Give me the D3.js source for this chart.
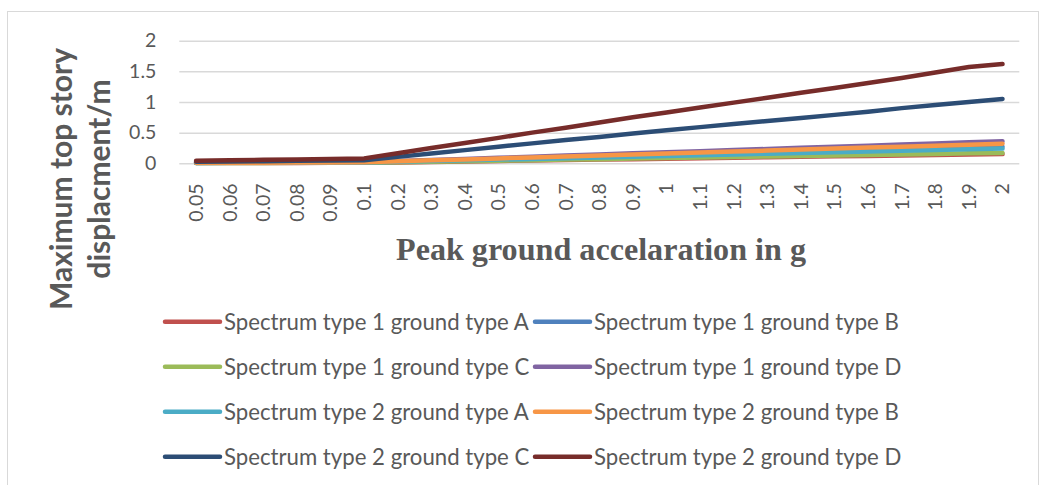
<!DOCTYPE html>
<html>
<head>
<meta charset="utf-8">
<script src="https://cdn.jsdelivr.net/npm/d3@7"></script>
<style>
  html, body { margin: 0; padding: 0; background: #fff; }
  svg { display: block; }
</style>
</head>
<body>
<svg id="chart" width="1044" height="485"></svg>
<script>
// ---------------- DATA ----------------
const categories = ["0.05","0.06","0.07","0.08","0.09","0.1","0.2","0.3","0.4","0.5","0.6","0.7","0.8","0.9","1","1.1","1.2","1.3","1.4","1.5","1.6","1.7","1.8","1.9","2"];
const yTicks = [0, 0.5, 1, 1.5, 2];

const s1A = [0.004,0.005,0.005,0.006,0.007,0.008,0.015,0.023,0.03,0.038,0.045,0.053,0.06,0.068,0.075,0.083,0.09,0.098,0.105,0.113,0.12,0.128,0.135,0.143,0.15];
const s1B = [0.007,0.008,0.009,0.011,0.012,0.014,0.027,0.041,0.054,0.068,0.081,0.095,0.108,0.122,0.135,0.149,0.162,0.176,0.189,0.203,0.216,0.23,0.243,0.257,0.27];
const s1C = [0.004,0.005,0.006,0.007,0.008,0.009,0.017,0.026,0.034,0.043,0.051,0.06,0.068,0.077,0.085,0.094,0.102,0.111,0.119,0.128,0.136,0.145,0.153,0.162,0.17];
const s1D = [0.009,0.011,0.013,0.014,0.016,0.018,0.036,0.054,0.072,0.09,0.108,0.126,0.144,0.162,0.18,0.198,0.216,0.234,0.252,0.27,0.288,0.306,0.324,0.342,0.36];
const s2A = [0.006,0.007,0.008,0.01,0.011,0.012,0.024,0.036,0.048,0.06,0.072,0.084,0.096,0.108,0.12,0.132,0.144,0.156,0.168,0.18,0.192,0.204,0.216,0.228,0.24];
const s2B = [0.008,0.01,0.011,0.013,0.014,0.016,0.032,0.048,0.064,0.08,0.096,0.112,0.128,0.144,0.16,0.176,0.192,0.208,0.224,0.24,0.256,0.272,0.288,0.304,0.32];
const s2C = [0.025,0.03,0.035,0.04,0.045,0.05,0.105,0.16,0.215,0.27,0.325,0.38,0.43,0.485,0.54,0.59,0.64,0.69,0.74,0.79,0.84,0.9,0.95,1.0,1.05];
const s2D = [0.04,0.048,0.056,0.064,0.072,0.08,0.165,0.25,0.33,0.415,0.5,0.58,0.665,0.75,0.83,0.91,0.99,1.07,1.15,1.23,1.31,1.39,1.48,1.57,1.62];

const seriesNames = [
  "Spectrum type 1 ground type A","Spectrum type 1 ground type B",
  "Spectrum type 1 ground type C","Spectrum type 1 ground type D",
  "Spectrum type 2 ground type A","Spectrum type 2 ground type B",
  "Spectrum type 2 ground type C","Spectrum type 2 ground type D"
];
const seriesColors = ["#C0504D","#4F81BD","#9BBB59","#8064A2","#4BACC6","#F79646","#2C4D75","#772C2A"];
const seriesValues = [s1A, s1B, s1C, s1D, s2A, s2B, s2C, s2D];

const xTitle = "Peak ground accelaration in g";
const yTitleLines = ["Maximum top story", "displacment/m"];

// ---------------- LAYOUT ----------------
const svg = d3.select("#chart");
const plot = { left: 179.3, right: 1019.3, top: 40.7, bottom: 163.3 };
const textColor = "#595959";
const font = "Lato, Calibri, 'Open Sans', sans-serif";

// chart border
svg.append("rect")
  .attr("x", 7.5).attr("y", 11.5)
  .attr("width", 1031).attr("height", 520)
  .attr("fill", "#fff").attr("stroke", "#d9d9d9").attr("stroke-width", 1);

const x = d3.scaleBand().domain(categories).range([plot.left, plot.right]).padding(0);
const xc = d => x(d) + x.bandwidth() / 2;
const y = d3.scaleLinear().domain([0, 2]).range([plot.bottom, plot.top]);

// gridlines + y labels via axis
const yAxis = d3.axisLeft(y).tickValues(yTicks).tickSize(-(plot.right - plot.left)).tickPadding(23)
  .tickFormat(d3.format("~g"));
const gy = svg.append("g").attr("transform", `translate(${plot.left},0)`).call(yAxis);
gy.select(".domain").remove();
gy.selectAll(".tick line").attr("stroke", "#d9d9d9").attr("stroke-width", 1.5);
gy.selectAll(".tick text").attr("fill", textColor).attr("font-family", font).attr("font-size", 19.5);

// x labels (rotated)
const xAxis = d3.axisBottom(x).tickSize(0).tickPadding(0);
const gx = svg.append("g").attr("transform", `translate(0,${plot.bottom})`).call(xAxis);
gx.select(".domain").remove();
gx.selectAll(".tick text")
  .attr("fill", textColor).attr("font-family", font).attr("font-size", 19.5)
  .attr("text-anchor", "end")
  .attr("transform", "translate(0,20) rotate(-90)")
  .attr("x", 0).attr("y", 0).attr("dy", "0.35em");

// lines
const line = d3.line().x((d, i) => xc(categories[i])).y(d => y(d));
svg.append("g").selectAll("path").data(seriesValues).join("path")
  .attr("d", d => line(d))
  .attr("fill", "none")
  .attr("stroke", (d, i) => seriesColors[i])
  .attr("stroke-width", 4.5)
  .attr("stroke-linejoin", "round")
  .attr("stroke-linecap", "round");

// y title
const yt = svg.append("text")
  .attr("transform", "translate(0,179) rotate(-90)")
  .attr("text-anchor", "middle")
  .attr("fill", textColor).attr("font-family", font)
  .attr("font-weight", "bold").attr("font-size", 30);
yt.selectAll("tspan").data(yTitleLines).join("tspan")
  .attr("x", 0).attr("y", (d, i) => [72, 110][i])
  .text(d => d);

// x title
svg.append("text")
  .attr("x", 601).attr("y", 260)
  .attr("text-anchor", "middle")
  .attr("fill", textColor)
  .attr("font-family", "'Liberation Serif', 'Times New Roman', serif")
  .attr("font-weight", "bold").attr("font-size", 31)
  .attr("textLength", 410).attr("lengthAdjust", "spacingAndGlyphs")
  .text(xTitle);

// legend
const legendCols = [165, 535];
const legendRows = [321.7, 366.7, 411.7, 456.7];
const lg = svg.append("g").selectAll("g").data(seriesNames).join("g")
  .attr("transform", (d, i) => `translate(${legendCols[i % 2]},${legendRows[Math.floor(i / 2)]})`);
lg.append("line")
  .attr("x1", 0).attr("x2", 55).attr("y1", 0).attr("y2", 0)
  .attr("stroke", (d, i) => seriesColors[i]).attr("stroke-width", 4.5).attr("stroke-linecap", "round");
lg.append("text")
  .attr("x", 59).attr("y", 0).attr("dy", "0.36em")
  .attr("fill", textColor).attr("font-family", font).attr("font-size", 22.2)
  .text(d => d);
</script>
</body>
</html>
